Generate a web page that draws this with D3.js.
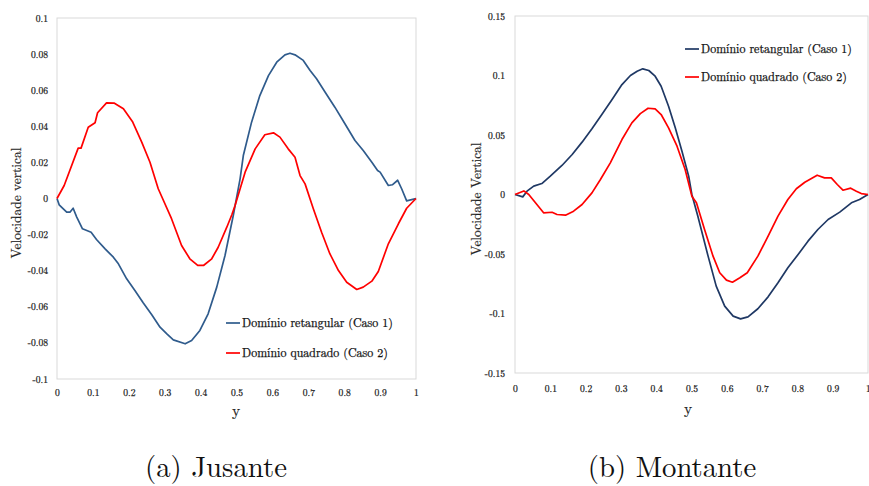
<!DOCTYPE html>
<html><head><meta charset="utf-8">
<script src="https://cdn.jsdelivr.net/npm/d3@7"></script>
<style>body{margin:0;background:#fff}svg{display:block}</style>
</head><body><svg id="c" width="869" height="486"></svg>
<script>
// ---- Data: (a) Jusante ----
const jusX1 = [0,0.006,0.027,0.036,0.045,0.055,0.071,0.095,0.110,0.134,0.157,0.171,0.194,0.217,0.240,0.264,0.287,0.306,0.324,0.357,0.375,0.398,0.421,0.445,0.468,0.491,0.51,0.519,0.542,0.565,0.589,0.612,0.635,0.649,0.663,0.686,0.705,0.723,0.747,0.774,0.802,0.830,0.853,0.877,0.893,0.900,0.923,0.934,0.949,0.960,0.974,0.988,1];
const jusV1 = [0,-0.0035,-0.0076,-0.0076,-0.0054,-0.0103,-0.0168,-0.0187,-0.0227,-0.0279,-0.0325,-0.0362,-0.0445,-0.051,-0.0578,-0.0644,-0.0713,-0.075,-0.0783,-0.0805,-0.0787,-0.0731,-0.0639,-0.0491,-0.0316,-0.0094,0.0109,0.0238,0.0423,0.057,0.0681,0.0755,0.0796,0.0805,0.0796,0.0765,0.0709,0.0663,0.0589,0.0506,0.0414,0.0321,0.0266,0.0201,0.0155,0.0146,0.0072,0.0076,0.0101,0.0054,-0.0013,-0.0006,0];
const jusX2 = [0,0.02,0.059,0.067,0.087,0.106,0.113,0.138,0.160,0.185,0.21,0.236,0.259,0.282,0.319,0.347,0.370,0.392,0.408,0.431,0.449,0.473,0.487,0.496,0.524,0.552,0.579,0.603,0.621,0.644,0.663,0.677,0.691,0.714,0.737,0.760,0.784,0.807,0.835,0.853,0.877,0.895,0.923,0.951,0.974,1];
const jusV2 = [0,0.0072,0.0279,0.0279,0.0395,0.042,0.0475,0.053,0.0528,0.0497,0.0427,0.0312,0.0201,0.0054,-0.0112,-0.026,-0.0334,-0.0371,-0.0371,-0.0334,-0.027,-0.0159,-0.009,-0.0039,0.0146,0.0275,0.0353,0.0364,0.034,0.0275,0.0229,0.0127,0.0081,-0.0057,-0.0187,-0.0306,-0.0399,-0.0464,-0.0504,-0.0491,-0.0458,-0.0404,-0.0251,-0.014,-0.0054,0];
// ---- Data: (b) Montante ----
const monX1 = [0,0.022,0.034,0.053,0.076,0.10,0.133,0.162,0.19,0.218,0.246,0.275,0.303,0.327,0.346,0.362,0.379,0.397,0.414,0.435,0.454,0.473,0.492,0.501,0.518,0.547,0.57,0.594,0.618,0.639,0.66,0.688,0.717,0.745,0.773,0.802,0.83,0.858,0.887,0.92,0.953,0.976,1];
const monV1 = [0,-0.002,0.0028,0.007,0.0092,0.0154,0.0244,0.0336,0.044,0.0552,0.0672,0.0798,0.0924,0.1,0.1036,0.1056,0.1042,0.0994,0.091,0.0742,0.056,0.0364,0.0154,0,-0.0182,-0.0518,-0.077,-0.0938,-0.1022,-0.1045,-0.1028,-0.096,-0.086,-0.0742,-0.0616,-0.0504,-0.0392,-0.0294,-0.021,-0.0148,-0.007,-0.0042,0];
const monX2 = [0,0.025,0.039,0.058,0.081,0.105,0.119,0.143,0.166,0.19,0.218,0.242,0.27,0.303,0.331,0.355,0.377,0.397,0.414,0.435,0.459,0.482,0.501,0.514,0.537,0.561,0.58,0.599,0.616,0.637,0.658,0.688,0.717,0.745,0.773,0.797,0.821,0.856,0.877,0.896,0.913,0.929,0.951,0.967,0.981,1];
const monV2 = [0,0.003,0,-0.007,-0.0154,-0.0149,-0.0168,-0.0174,-0.014,-0.0084,0.0014,0.0126,0.0266,0.0462,0.0602,0.068,0.0725,0.072,0.0672,0.056,0.0406,0.021,-0.0014,-0.007,-0.0294,-0.0518,-0.0658,-0.072,-0.0737,-0.07,-0.0658,-0.0518,-0.035,-0.0182,-0.0042,0.0048,0.0103,0.0162,0.014,0.014,0.0084,0.0036,0.0053,0.0028,0.0008,0];

const xTicks = [0,0.1,0.2,0.3,0.4,0.5,0.6,0.7,0.8,0.9,1];
const yTicksA = [-0.1,-0.08,-0.06,-0.04,-0.02,0,0.02,0.04,0.06,0.08,0.1];
const yTicksB = [-0.15,-0.1,-0.05,0,0.05,0.1,0.15];
const legendLabels = ["Domínio retangular (Caso 1)","Domínio quadrado (Caso 2)"];
const captions = ["(a) Jusante","(b) Montante"];
const yLabels = ["Velocidade vertical","Velocidade Vertical"];

const FONT = "'Latin Modern Roman'";
const svg = d3.select("#c");

function fitSize(str, target, base){
  const t = svg.append("text").style("font-family",FONT).style("font-size",base+"px").text(str);
  const w = t.node().getComputedTextLength(); t.remove();
  return w>0 ? base*target/w : base;
}
const fsTick = fitSize("0.08",17,10);
const fsLeg = fitSize(legendLabels[0],151,13);
const fsYlab = fitSize(yLabels[0],111,14);
const fsCap = fitSize(captions[0],142,24);

function styleText(sel,fs,fill,sw){
  sel.style("font-family",FONT).style("font-size",fs+"px").style("fill",fill);
  if(sw) sel.style("stroke",fill).style("stroke-width",sw);
}

function panel(cfg){
  const x = d3.scaleLinear().domain([0,1]).range([cfg.left,cfg.right]);
  const y = d3.scaleLinear().domain(cfg.ydom).range([cfg.bottom,cfg.top]);
  const g = svg.append("g");
  g.append("rect").attr("x",cfg.left).attr("y",cfg.top).attr("width",cfg.right-cfg.left).attr("height",cfg.bottom-cfg.top)
   .attr("fill","none").attr("stroke","#d9d9d9").attr("stroke-width",1);
  const ya = g.append("g").attr("transform",`translate(${cfg.left},0)`)
    .call(d3.axisLeft(y).tickValues(cfg.yticks).tickSize(0).tickPadding(cfg.ypad).tickFormat(d=>String(+d.toFixed(3))));
  ya.attr("font-family",null).attr("font-size",null);
  ya.select(".domain").remove();
  styleText(ya.selectAll("text"),fsTick,"#222",0.25);
  const xa = g.append("g").attr("transform",`translate(0,${cfg.bottom})`)
    .call(d3.axisBottom(x).tickValues(xTicks).tickSize(0).tickPadding(cfg.xpad).tickFormat(d=>String(+d.toFixed(1))));
  xa.attr("font-family",null).attr("font-size",null);
  xa.select(".domain").remove();
  styleText(xa.selectAll("text"),fsTick,"#222",0.25);
  styleText(g.append("text").attr("x",cfg.xlabX).attr("y",cfg.xlabY).attr("text-anchor","middle").text("y"),fsYlab*1.15,"#222",0.2);
  styleText(g.append("text").attr("transform",`translate(${cfg.ylabX},${cfg.ylabY}) rotate(-90)`).attr("text-anchor","middle").text(cfg.ylabel),fsYlab,"#222",0.2);
  const line = d3.line().x(d=>x(d[0])).y(d=>y(d[1]));
  const series = [[cfg.x1,cfg.v1,cfg.c1],[cfg.x2,cfg.v2,"#ff0000"]];
  series.forEach(([xs,vs,col])=>{
    g.append("path").datum(xs.map((v,i)=>[v,vs[i]])).attr("d",line).attr("fill","none").attr("stroke",col).attr("stroke-width",1.7).attr("stroke-linejoin","round");
  });
  legendLabels.forEach((lab,i)=>{
    const ly = cfg.legY + i*cfg.legGap;
    g.append("line").attr("x1",cfg.legX).attr("x2",cfg.legX+14).attr("y1",ly).attr("y2",ly).attr("stroke",series[i][2]).attr("stroke-width",1.7);
    styleText(g.append("text").attr("x",cfg.legX+16).attr("y",ly).attr("dy","0.33em").text(lab),fsLeg,"#111",0.25);
  });
  styleText(svg.append("text").attr("x",cfg.capX).attr("y",477).attr("text-anchor","middle").text(cfg.caption),fsCap,"#111");
}

panel({left:57,right:416,top:18,bottom:379,ydom:[-0.1,0.1],yticks:yTicksA,ypad:9,xpad:10,xlabX:236,xlabY:416,ylabX:21,ylabY:203,ylabel:yLabels[0],
  x1:jusX1,v1:jusV1,x2:jusX2,v2:jusV2,c1:"#2f5b8c",legX:226,legY:323,legGap:30,capX:216,caption:captions[0]});
panel({left:515,right:868,top:16,bottom:373,ydom:[-0.15,0.15],yticks:yTicksB,ypad:10,xpad:12,xlabX:688,xlabY:414,ylabX:481,ylabY:199,ylabel:yLabels[1],
  x1:monX1,v1:monV1,x2:monX2,v2:monV2,c1:"#1f3864",legX:685,legY:49,legGap:28,capX:672,caption:captions[1]});
</script></body></html>
